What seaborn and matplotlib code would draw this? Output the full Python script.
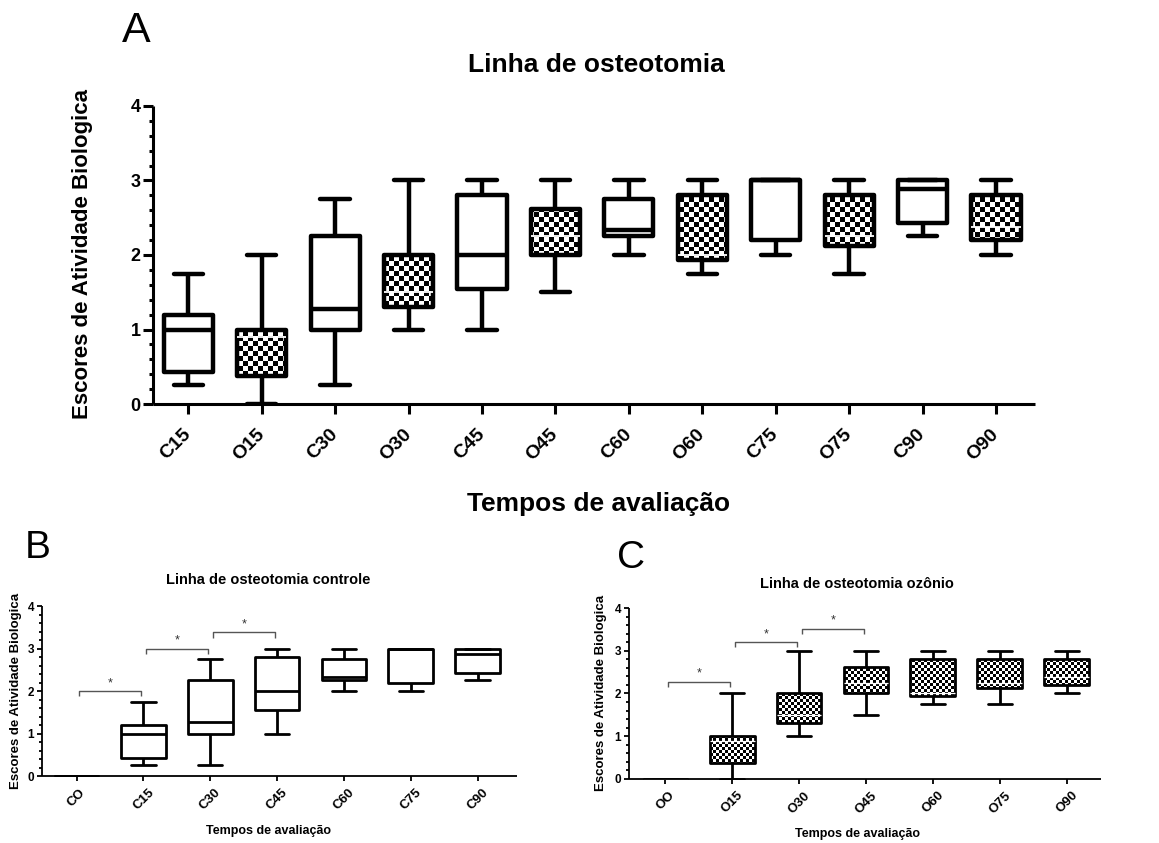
import numpy as np
import pandas as pd
import matplotlib
matplotlib.use("Agg")
import matplotlib.pyplot as plt
import seaborn as sns
from matplotlib.ticker import MultipleLocator

# ---------------- data (five-number summaries) ----------------
ctrl_labels = ["CO", "C15", "C30", "C45", "C60", "C75", "C90"]
ctrl_min = [0.00, 0.25, 0.25, 1.00, 2.00, 2.00, 2.25]
ctrl_q1  = [0.00, 0.43, 1.00, 1.55, 2.25, 2.20, 2.43]
ctrl_med = [0.00, 1.00, 1.28, 2.00, 2.33, 3.00, 2.88]
ctrl_q3  = [0.00, 1.20, 2.25, 2.80, 2.75, 3.00, 3.00]
ctrl_max = [0.00, 1.75, 2.75, 3.00, 3.00, 3.00, 3.00]

oz_labels = ["OO", "O15", "O30", "O45", "O60", "O75", "O90"]
oz_min = [0.00, 0.00, 1.00, 1.50, 1.75, 1.75, 2.00]
oz_q1  = [0.00, 0.37, 1.30, 2.00, 1.93, 2.12, 2.20]
oz_med = [0.00, 0.90, 1.50, 2.25, 2.00, 2.25, 2.38]
oz_q3  = [0.00, 1.00, 2.00, 2.62, 2.80, 2.80, 2.80]
oz_max = [0.00, 2.00, 3.00, 3.00, 3.00, 3.00, 3.00]

# significance brackets: (group i, group j, height)
sig_ctrl = [(0, 1, 2.00), (1, 2, 3.00), (2, 3, 3.38)]
sig_oz = [(0, 1, 2.28), (1, 2, 3.20), (2, 3, 3.52)]

y_ticks = [0, 1, 2, 3, 4]
title_a = "Linha de osteotomia"
title_b = "Linha de osteotomia controle"
title_c = "Linha de osteotomia ozônio"
y_label = "Escores de Atividade Biologica"
x_label = "Tempos de avaliação"

plt.rcParams["font.family"] = ["Liberation Sans", "DejaVu Sans"]
plt.rcParams["text.color"] = "black"
plt.rcParams["axes.edgecolor"] = "black"
plt.rcParams["xtick.color"] = "black"
plt.rcParams["ytick.color"] = "black"


def long_df(labels, mn, q1, md, q3, mx, idx):
    rows = []
    for i in idx:
        for v in (mn[i], q1[i], md[i], q3[i], mx[i]):
            rows.append((labels[i], v))
    return pd.DataFrame(rows, columns=["grupo", "escore"])


def draw_boxes(ax, order, df_plain, df_check, lw, cell_px, med_lw, capw):
    common = dict(x="grupo", y="escore", order=order, whis=(0, 100), width=0.67,
                  color="white", linecolor="black", linewidth=lw, saturation=1,
                  fliersize=0, ax=ax, capwidths=capw,
                  boxprops=dict(joinstyle="round"),
                  capprops=dict(solid_capstyle="round"),
                  whiskerprops=dict(solid_capstyle="butt"))
    if df_plain is not None:
        sns.boxplot(data=df_plain, **common)
    n0 = len(ax.patches)
    if df_check is not None:
        sns.boxplot(data=df_check, medianprops=dict(color="white", linewidth=med_lw), **common)
    boxes = list(ax.patches[n0:])
    # checkerboard fill, clipped to each box
    fig = ax.figure
    W, H = fig.get_size_inches() * fig.dpi
    pos = ax.get_position()
    nx = int(round(pos.width * W / cell_px))
    ny = int(round(pos.height * H / cell_px))
    arr = np.indices((ny, nx)).sum(axis=0) % 2
    for p in boxes:
        p.set_facecolor("none")
        im = ax.imshow(arr, cmap="gray", vmin=0, vmax=1, extent=(0, 1, 0, 1),
                       transform=ax.transAxes, interpolation="nearest",
                       aspect="auto", zorder=p.get_zorder() - 0.1)
        im.set_clip_path(p)


def style_axes(ax, order, xlim, spine_lw, maj_len, min_len, xfs, yfs, big):
    for s in ("top", "right"):
        ax.spines[s].set_visible(False)
    ax.spines["left"].set_bounds(0, 4)
    ax.spines["bottom"].set_position(("data", 0))
    for s in ("left", "bottom"):
        ax.spines[s].set_linewidth(spine_lw)
        ax.spines[s].set_capstyle("butt")
    ax.set_xlim(*xlim)
    ax.set_ylim(-0.03, 4.05)
    ax.set_yticks(y_ticks)
    ax.set_yticklabels([str(t) for t in y_ticks], fontsize=yfs, fontweight="bold")
    ax.yaxis.set_minor_locator(MultipleLocator(0.2))
    ax.set_xticks(range(len(order)))
    if big:
        ax.set_xticklabels(order, rotation=45, ha="right", va="center",
                           rotation_mode="anchor", fontsize=xfs, fontweight="bold")
    else:
        ax.set_xticklabels(order, rotation=45, ha="center", va="top",
                           fontsize=xfs, fontweight="bold")
    ax.tick_params(axis="both", which="major", length=maj_len, width=spine_lw, direction="out")
    ax.tick_params(axis="y", which="minor", length=min_len, width=spine_lw, direction="out")
    ax.tick_params(axis="x", which="minor", length=0)
    ax.tick_params(axis="y", which="major", pad=2)


def brackets(ax, sigs, fs):
    for i, j, y in sigs:
        x0, x1 = i + 0.04, j - 0.03
        d = 0.12
        ax.plot([x0, x0, x1, x1], [y - d, y, y, y - d], color="#555555", lw=1.0,
                solid_capstyle="butt", clip_on=False, zorder=3)
        ax.text((x0 + x1) / 2, y + 0.04, "*", ha="center", va="bottom",
                fontsize=fs, color="#333333")


fig = plt.figure(figsize=(11.59, 8.43), dpi=100)

# ---------------- Panel A ----------------
axA = fig.add_axes([0.132, 0.5181, 0.761, 0.3606])
order_a = [lab for pair in zip(ctrl_labels[1:], oz_labels[1:]) for lab in pair]
idx = range(1, len(ctrl_labels))
dfA_c = long_df(ctrl_labels, ctrl_min, ctrl_q1, ctrl_med, ctrl_q3, ctrl_max, idx)
dfA_o = long_df(oz_labels, oz_min, oz_q1, oz_med, oz_q3, oz_max, idx)
draw_boxes(axA, order_a, dfA_c, dfA_o, lw=3.2, cell_px=5, med_lw=1.3, capw=0.40)
style_axes(axA, order_a, (-0.48, 11.53), 2.2, 7, 3, 14, 13, big=True)
axA.tick_params(axis="x", which="major", pad=13)
axA.set_title(title_a, fontsize=19, fontweight="bold", pad=22, x=0.503)
axA.set_ylabel(y_label, fontsize=16, fontweight="bold")
axA.set_xlabel(x_label, fontsize=19, fontweight="bold")
axA.yaxis.set_label_coords(-0.068, 0.5)
axA.xaxis.set_label_coords(0.505, -0.282)

# ---------------- Panel B ----------------
axB = fig.add_axes([0.0362, 0.0779, 0.4098, 0.2057])
dfB = long_df(ctrl_labels, ctrl_min, ctrl_q1, ctrl_med, ctrl_q3, ctrl_max, range(len(ctrl_labels)))
draw_boxes(axB, ctrl_labels, dfB, None, lw=2.0, cell_px=3, med_lw=0.9, capw=0.36)
style_axes(axB, ctrl_labels, (-0.52, 6.59), 1.3, 3.5, 2, 9.5, 8.5, big=False)
axB.tick_params(axis="x", which="major", pad=4)
brackets(axB, sig_ctrl, 9)
axB.set_title(title_b, fontsize=10.5, fontweight="bold", pad=14, x=0.477)
axB.set_ylabel(y_label, fontsize=9.5, fontweight="bold")
axB.set_xlabel(x_label, fontsize=9, fontweight="bold")
axB.yaxis.set_label_coords(-0.042, 0.5)
axB.xaxis.set_label_coords(0.477, -0.275)

# ---------------- Panel C ----------------
axC = fig.add_axes([0.5427, 0.0744, 0.4072, 0.2069])
dfC = long_df(oz_labels, oz_min, oz_q1, oz_med, oz_q3, oz_max, range(len(oz_labels)))
draw_boxes(axC, oz_labels, None, dfC, lw=2.0, cell_px=3, med_lw=0.9, capw=0.36)
style_axes(axC, oz_labels, (-0.54, 6.51), 1.3, 3.5, 2, 9.5, 8.5, big=False)
axC.tick_params(axis="x", which="major", pad=4)
brackets(axC, sig_oz, 9)
axC.set_title(title_c, fontsize=10.5, fontweight="bold", pad=13, x=0.484)
axC.set_ylabel(y_label, fontsize=9.5, fontweight="bold")
axC.set_xlabel(x_label, fontsize=9, fontweight="bold")
axC.yaxis.set_label_coords(-0.047, 0.5)
axC.xaxis.set_label_coords(0.485, -0.273)

# panel letters
fig.text(122 / 1159, 1 - 42 / 843, "A", fontsize=31, ha="left", va="baseline")
fig.text(25 / 1159, 1 - 558 / 843, "B", fontsize=28, ha="left", va="baseline")
fig.text(617 / 1159, 1 - 568 / 843, "C", fontsize=28, ha="left", va="baseline")

fig.savefig("out.png", dpi=100, facecolor="white")
